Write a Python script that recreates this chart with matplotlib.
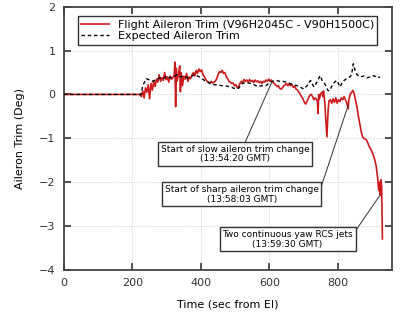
import matplotlib
matplotlib.use("Agg")
import matplotlib.pyplot as plt

# ---- data ----
flight_t = [0, 100, 220, 222, 226, 230, 234, 238, 242, 246, 250, 254, 258, 262, 266, 270, 274, 278,
            282, 286, 290, 294, 298, 302, 306, 310, 314, 318, 322, 324, 326, 328, 330, 334, 338,
            340, 342, 346, 350, 354, 358, 362, 366, 370, 374, 378, 382, 386, 390, 394, 398, 402,
            406, 410, 414, 418, 422, 426, 430, 434, 438, 442, 446, 450, 454, 458, 462, 466, 470,
            474, 478, 482, 486, 490, 494, 498, 502, 506, 510, 514, 518, 522, 526, 530, 534, 538,
            542, 546, 550, 554, 558, 562, 566, 570, 574, 578, 582, 586, 590, 594, 598, 602, 606,
            610, 614, 618, 622, 626, 630, 634, 638, 642, 646, 650, 654, 658, 662, 666, 670, 674,
            678, 682, 686, 690, 694, 698, 702, 706, 710, 714, 718, 722, 726, 730, 734, 738, 740,
            742, 744, 746, 750, 754, 756, 758, 760, 762, 764, 768, 770, 772, 774, 778, 782, 786,
            790, 794, 798, 802, 806, 810, 814, 818, 822, 826, 830, 832, 836, 840, 844, 848, 852,
            856, 860, 864, 868, 872, 876, 880, 884, 888, 892, 896, 900, 904, 908, 912, 916, 918,
            920, 922, 924, 926, 928, 930]
flight_v = [0.0, 0.0, 0.0, 0.0, -0.05, 0.08, -0.08, 0.15, 0.05, 0.22, -0.1, 0.25, 0.1, 0.3, 0.18, 0.35,
            0.28, 0.45, 0.3, 0.38, 0.32, 0.5, 0.34, 0.4, 0.28, 0.42, 0.35, 0.38, 0.45, 0.74, -0.28,
            0.6, 0.3, 0.45, 0.65, 0.06, 0.5, 0.2, 0.42, 0.35, 0.48, 0.3, 0.4, 0.36, 0.45, 0.5, 0.42,
            0.55, 0.48, 0.58, 0.52, 0.56, 0.45, 0.4, 0.35, 0.3, 0.28, 0.25, 0.3, 0.26, 0.28, 0.3,
            0.36, 0.45, 0.52, 0.5, 0.55, 0.48, 0.5, 0.4, 0.36, 0.3, 0.28, 0.25, 0.26, 0.2, 0.22,
            0.15, 0.18, 0.25, 0.3, 0.28, 0.34, 0.3, 0.33, 0.28, 0.34, 0.3, 0.32, 0.27, 0.33, 0.29,
            0.31, 0.27, 0.3, 0.25, 0.3, 0.28, 0.33, 0.3, 0.35, 0.3, 0.33, 0.28, 0.25, 0.22, 0.18,
            0.2, 0.14, 0.12, 0.15, 0.2, 0.22, 0.25, 0.2, 0.24, 0.2, 0.22, 0.16, 0.18, 0.12, 0.1,
            0.05, 0.0, -0.05, -0.1, -0.18, -0.22, -0.15, -0.08, -0.02, 0.0, -0.05, -0.12, -0.08,
            -0.12, -0.15, -0.44, 0.0, -0.1, 0.02, 0.05, -0.05, 0.08, -0.05, -0.2, -0.5, -0.97,
            -0.6, -0.3, -0.15, -0.12, -0.2, -0.1, -0.18, -0.08, -0.2, -0.12, -0.16, -0.08, -0.12,
            -0.05, -0.12, -0.2, -0.33, -0.12, 0.0, 0.05, 0.09, 0.0, -0.15, -0.3, -0.5, -0.68,
            -0.85, -0.97, -1.0, -1.02, -1.05, -1.12, -1.2, -1.25, -1.32, -1.4, -1.5, -1.65, -1.9,
            -2.1, -2.2, -2.0, -2.3, -1.95, -2.15, -3.3]

expected_t = [0, 100, 225, 230, 240, 250, 260, 270, 280, 290, 300, 310, 320, 330, 340, 350, 360,
              370, 380, 390, 400, 410, 420, 430, 440, 450, 460, 470, 480, 490, 500, 510, 520, 530,
              540, 550, 560, 570, 580, 590, 600, 610, 620, 630, 640, 650, 660, 670, 680, 690, 700,
              710, 720, 730, 740, 748, 755, 762, 770, 775, 783, 790, 797, 806, 815, 825, 835, 840,
              845, 850, 856, 865, 875, 885, 895, 905, 915, 923]
expected_v = [0.0, 0.0, 0.0, 0.2, 0.36, 0.33, 0.3, 0.35, 0.38, 0.36, 0.42, 0.38, 0.4, 0.45, 0.4,
              0.42, 0.38, 0.4, 0.45, 0.42, 0.38, 0.32, 0.28, 0.25, 0.22, 0.22, 0.2, 0.2, 0.18, 0.16,
              0.13, 0.14, 0.25, 0.27, 0.26, 0.24, 0.2, 0.19, 0.2, 0.2, 0.27, 0.3, 0.32, 0.3, 0.3,
              0.28, 0.25, 0.22, 0.2, 0.17, 0.12, 0.2, 0.32, 0.17, 0.3, 0.43, 0.3, 0.24, 0.1, 0.08,
              0.2, 0.28, 0.32, 0.17, 0.3, 0.36, 0.4, 0.45, 0.7, 0.55, 0.45, 0.4, 0.42, 0.38, 0.4,
              0.43, 0.38, 0.4]

x_ticks = [0, 200, 400, 600, 800]
y_ticks = [-4, -3, -2, -1, 0, 1, 2]

annotations = [
    ("Start of slow aileron trim change\n(13:54:20 GMT)", (607, 0.28), (500, -1.36), (0.56, 1.0)),
    ("Start of sharp aileron trim change\n(13:58:03 GMT)", (830, -0.25), (519, -2.28), (1.0, 0.5)),
    ("Two continuous yaw RCS jets\n(13:59:30 GMT)", (923, -2.3), (653, -3.31), (1.0, 0.75)),
]

fig = plt.figure(figsize=(4.0, 3.12), dpi=100)
ax = fig.add_axes([0.16, 0.136, 0.82, 0.842])

ax.plot(flight_t, flight_v, color="#cc1a1a", lw=1.2,
        label="Flight Aileron Trim (V96H2045C - V90H1500C)", zorder=3)
ax.plot(expected_t, expected_v, color="black", lw=1.0, ls=(0, (2.5, 2)),
        label="Expected Aileron Trim", zorder=4)

ax.set_xlim(0, 958)
ax.set_ylim(-4, 2)
ax.set_xticks(x_ticks)
ax.set_yticks(y_ticks)
ax.grid(True, color="#cccccc", ls=":", lw=0.7)
ax.tick_params(direction="in", top=True, right=True, length=5, width=1.2,
               labelsize=8, colors="#333333", pad=6)
for s in ax.spines.values():
    s.set_linewidth(1.3)
    s.set_color("#444444")

ax.set_xlabel("Time (sec from EI)", fontsize=8, labelpad=8)
ax.set_ylabel("Aileron Trim (Deg)", fontsize=8, labelpad=10)

leg = ax.legend(loc="upper left", bbox_to_anchor=(0.025, 0.985), fontsize=8,
                frameon=True, fancybox=False, edgecolor="#333333", framealpha=1,
                handlelength=2.5, borderpad=0.3, labelspacing=0.15)
leg.get_frame().set_linewidth(1.0)

for text, xy, xytext, rp in annotations:
    ax.annotate(text, xy=xy, xytext=xytext, fontsize=6.5, ha="center", va="center",
                bbox=dict(boxstyle="square,pad=0.3", fc="white", ec="#333333", lw=1.0),
                arrowprops=dict(arrowstyle="-", color="#333333", lw=0.7,
                                shrinkA=0, shrinkB=0, relpos=rp, patchA=None),
                zorder=5, linespacing=1.1)

fig.savefig("out.png", dpi=100)
